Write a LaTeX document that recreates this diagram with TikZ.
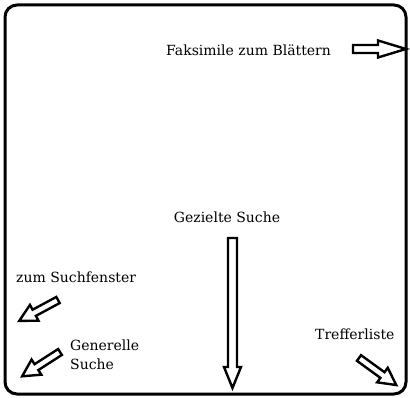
\documentclass[tikz,border=0pt]{standalone}
\usepackage{fontspec}
\setmainfont{DejaVu Serif}
\newcommand{\blockarr}[7]{%
  \draw[blk, shift={(#1,#2)}, rotate=-#3]
    (0,-#5) -- ({#4-#7},-#5) -- ({#4-#7},-#6) -- (#4,0) -- ({#4-#7},#6) -- ({#4-#7},#5) -- (0,#5) -- cycle;}
\tikzset{
  blk/.style={draw=black, line width=2.4pt, line join=miter, fill=white},
  lbl/.style={inner sep=0pt, anchor=base west, font=\fontsize{14pt}{16pt}\selectfont, text=black},
  frame/.style={draw=black, line width=3pt, rounded corners=12pt}
}
\begin{document}
\begin{tikzpicture}[x=1pt, y=-1pt]
\useasboundingbox (0,0) rectangle (410,398);
\draw[frame] (5,5) rectangle (406,394);
\node[lbl] (fak) at (166,56) {Faksimile zum Blättern};
\node[lbl, anchor=base] (gez) at (227,223) {Gezielte Suche};
\node[lbl] (such) at (16,283) {zum Suchfenster};
\node[lbl] (gen1) at (70,350) {Generelle};
\node[lbl] (gen2) at (70,370) {Suche};
\node[lbl] (tref) at (315,340) {Trefferliste};
\blockarr{353}{49}{0}{53}{4}{8.5}{28}
\blockarr{232.5}{238}{90}{150}{4.5}{8.5}{21}
\blockarr{58}{300}{151.7}{44}{3.5}{9}{17}
\blockarr{60}{352}{147.3}{45}{3.5}{9}{17}
\blockarr{359}{358}{36}{46}{3.5}{9}{17}
\end{tikzpicture}
\end{document}
